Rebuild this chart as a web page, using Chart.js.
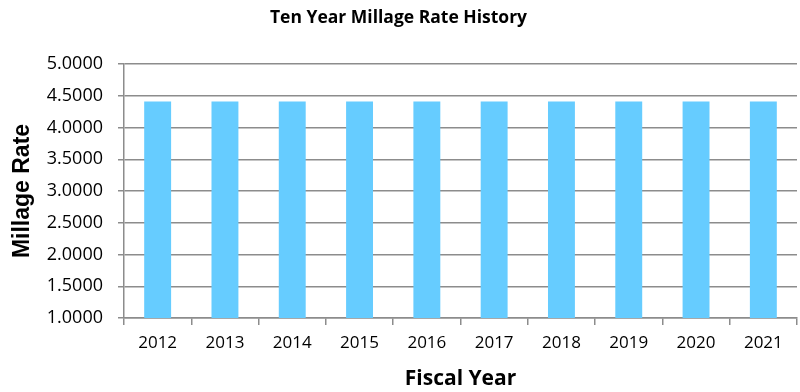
<!DOCTYPE html>
<html>
<head>
<meta charset="utf-8">
<script src="https://cdn.jsdelivr.net/npm/chart.js@4"></script>
<style>
  html, body { margin: 0; padding: 0; background: #fff; }
  #wrap { width: 800px; height: 392px; }
</style>
</head>
<body>
<div id="wrap"><canvas id="rateChart" width="800" height="392"></canvas></div>
<script>
// ----- data -----
const YEARS = ["2012", "2013", "2014", "2015", "2016", "2017", "2018", "2019", "2020", "2021"];
const MILLAGE = [4.41, 4.41, 4.41, 4.41, 4.41, 4.41, 4.41, 4.41, 4.41, 4.41];

const GRID = "#8c8c8c";
const FONT = "'Open Sans', 'Liberation Sans', sans-serif";

new Chart(document.getElementById("rateChart").getContext("2d"), {
    type: "bar",
    data: {
        labels: YEARS,
        datasets: [{
            label: "Millage Rate",
            data: MILLAGE,
            backgroundColor: "#66ccff",
            borderWidth: 0,
            barPercentage: 0.4,
            categoryPercentage: 1.0
        }]
    },
    options: {
        responsive: false,
        animation: false,
        layout: { padding: { left: 0, right: 3, top: 0, bottom: 0 } },
        plugins: {
            legend: { display: false },
            tooltip: { enabled: false },
            title: {
                display: true,
                text: "Ten Year Millage Rate History",
                color: "#000",
                font: { family: FONT, size: 17.5, weight: "bold" },
                padding: { top: 8, bottom: 35 }
            }
        },
        scales: {
            x: {
                offset: true,
                grid: { display: true, drawOnChartArea: false, offset: true, color: GRID, tickLength: 7, lineWidth: 1.5 },
                border: { display: true, color: GRID, width: 1.5 },
                ticks: { color: "#000", font: { family: FONT, size: 17 }, padding: 8 },
                title: {
                    display: true,
                    text: "Fiscal Year",
                    color: "#000",
                    font: { family: FONT, size: 21, weight: "bold" },
                    padding: { top: 8, bottom: 0 }
                },
                afterFit: s => { s.height = 74; }
            },
            y: {
                min: 1,
                max: 5,
                afterFit: s => { s.width = 124; },
                grid: { color: GRID, lineWidth: 1.5, tickLength: 6 },
                border: { display: true, color: GRID, width: 1.5 },
                ticks: {
                    stepSize: 0.5,
                    color: "#000",
                    font: { family: FONT, size: 18 },
                    padding: 15,
                    callback: v => Number(v).toFixed(4)
                },
                title: {
                    display: true,
                    text: "Millage Rate",
                    color: "#000",
                    font: { family: "'Liberation Sans', Arial, sans-serif", size: 23, weight: "bold" },
                    padding: { top: 9, bottom: 0 }
                }
            }
        }
    }
});
</script>
</body>
</html>
